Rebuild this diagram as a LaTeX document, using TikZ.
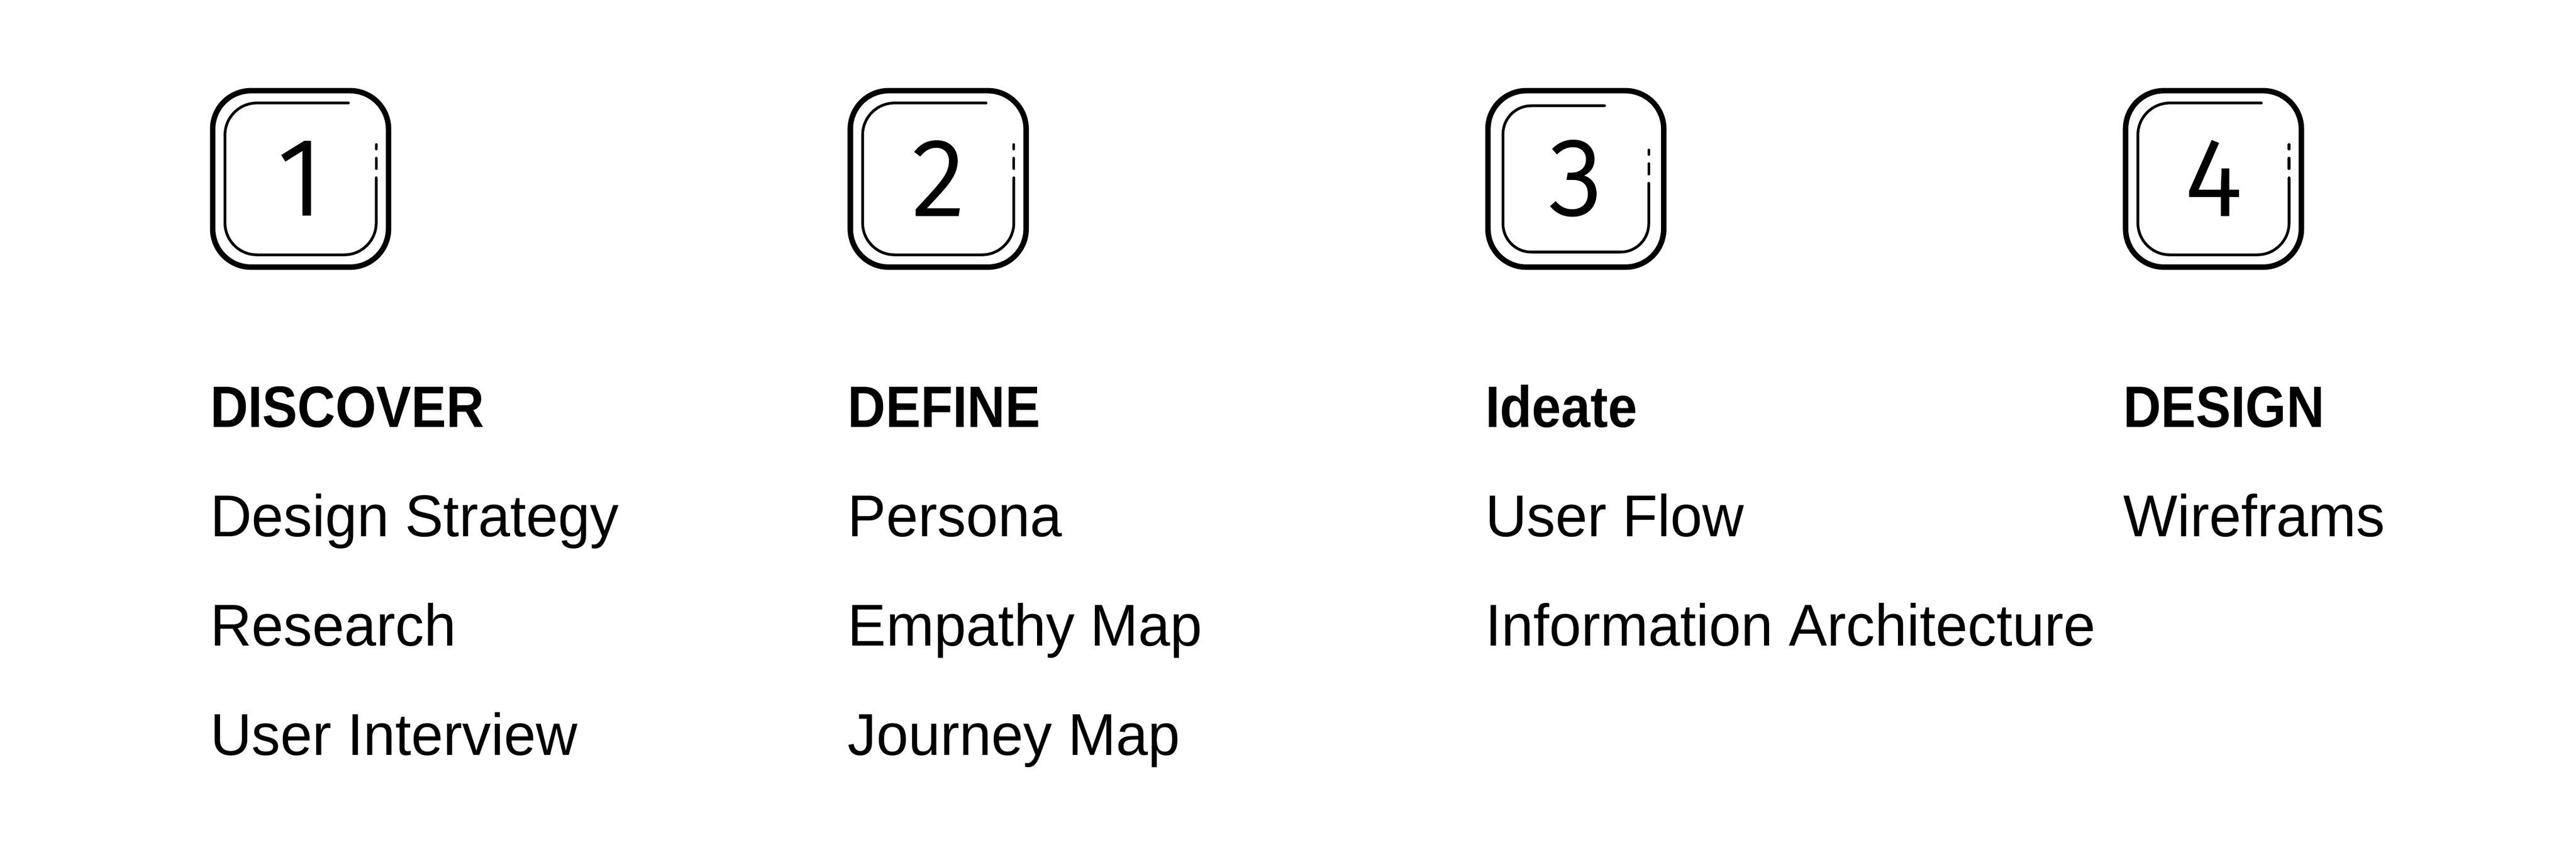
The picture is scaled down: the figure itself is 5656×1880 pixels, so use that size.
\documentclass[tikz,border=0pt]{standalone}
\usepackage{fontspec}
\usepackage{tikz}
\setmainfont{Liberation Sans}[FakeStretch=0.975]
\newfontfamily\headfont{Liberation Sans}[FakeStretch=0.9]
\IfFontExistsTF{Fira Sans Light}
  {\newfontfamily\numfont{Fira Sans Light}[FakeBold=2]}
  {\newfontfamily\numfont{Fira Sans}}

\begin{document}
\begin{tikzpicture}[x=0.01cm,y=-0.01cm,
  outerbox/.style={line width=0.12cm, rounded corners=0.84cm},
  innerline/.style={line width=0.06cm, line cap=round},
  stepnum/.style={inner sep=0pt, font=\numfont\fontsize{68}{70}\selectfont},
  stephead/.style={anchor=base west, inner sep=0pt, font=\headfont\bfseries\fontsize{36.4}{44}\selectfont},
  stepitem/.style={anchor=base west, inner sep=0pt, font=\fontsize{36.8}{44}\selectfont}]
\useasboundingbox[fill=white] (0,0) rectangle (5656,1880);
% icons: number/left/inset/radius/top end/dash shift
\foreach \n/\ox/\d/\r/\t/\s in {1/461/33/70/304/0, 2/1861/33/70/304/0, 3/3261/39/62/262/12, 4/4661/33/70/304/0} {
  \begin{scope}[shift={(\ox,193)}]
    \draw[outerbox] (6,6) rectangle (392,393);
    \draw[innerline, rounded corners=\r*0.01cm] (\t,\d) -- (\d,\d) -- (\d,{399-\d}) -- ({398-\d},{399-\d}) -- ({398-\d},{197+\s});
    \draw[innerline] ({398-\d},{124+\s}) -- ({398-\d},{134+\s});
    \draw[innerline] ({398-\d},{154+\s}) -- ({398-\d},{177+\s});
    \node[stepnum] (num\n) at (199,198) {\n};
  \end{scope}
}
% DISCOVER
\node[stephead] (head1) at (461,937) {DISCOVER};
\node[stepitem] (item11) at (461,1177) {Design Strategy};
\node[stepitem] (item12) at (461,1417) {Research};
\node[stepitem] (item13) at (461,1657) {User Interview};
% DEFINE
\node[stephead] (head2) at (1861,937) {DEFINE};
\node[stepitem] (item21) at (1861,1177) {Persona};
\node[stepitem] (item22) at (1861,1417) {Empathy Map};
\node[stepitem] (item23) at (1861,1657) {Journey Map};
% Ideate
\node[stephead] (head3) at (3261,937) {Ideate};
\node[stepitem] (item31) at (3261,1177) {User Flow};
\node[stepitem] (item32) at (3261,1417) {Information Architecture};
% DESIGN
\node[stephead] (head4) at (4661,937) {DESIGN};
\node[stepitem] (item41) at (4661,1177) {Wireframs};
\end{tikzpicture}
\end{document}
